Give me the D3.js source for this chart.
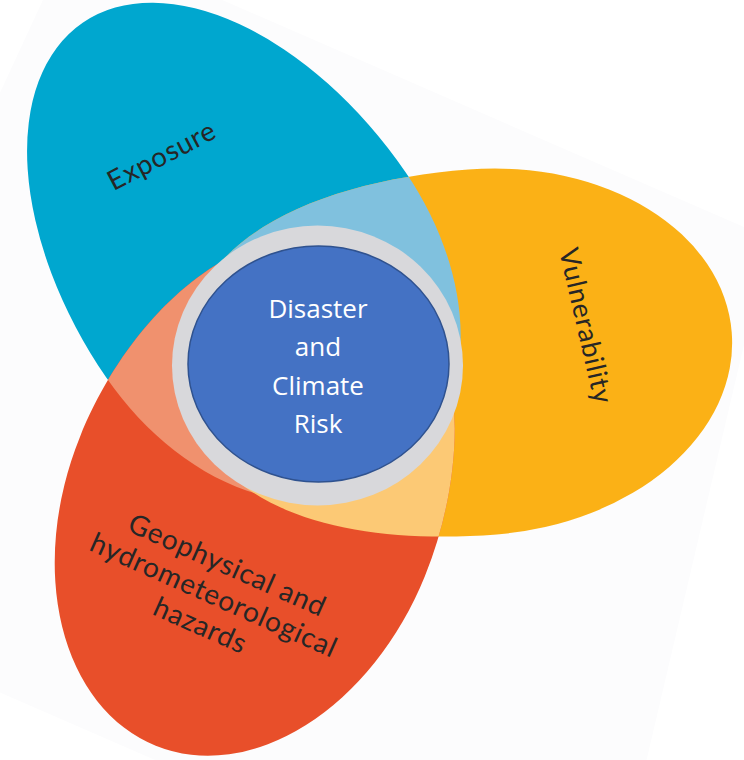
<!DOCTYPE html>
<html>
<head>
<meta charset="utf-8">
<title>Disaster and Climate Risk</title>
<script src="https://cdn.jsdelivr.net/npm/d3@7"></script>
<style>
    body { margin: 0; background: #fff; }
    .petal-label { font-family: Lato, "Open Sans", sans-serif; fill: #262626; letter-spacing: 0.8px; }
    .centre-label { font-family: "Open Sans", "Noto Sans", sans-serif; fill: #fff; }
</style>
</head>
<body>
<svg id="venn"></svg>
<script>
// Sets (petals) of the diagram
const sets = ["Exposure", "Vulnerability", "Hazards"];
const setColors = ["#06a7cf", "#fbb116", "#e8502a"];

// Pairwise overlaps and their colours
const overlaps = [["Exposure", "Vulnerability"], ["Exposure", "Hazards"], ["Vulnerability", "Hazards"]];
const overlapColors = ["#80c1de", "#f0916e", "#fcc974"];

// Text
const exposureLines = ["Exposure"];
const vulnerabilityLines = ["Vulnerability"];
const hazardLines = ["Geophysical and", "hydrometeorological", "hazards"];
const centreLines = ["Disaster", "and", "Climate", "Risk"];

class Venn {

    constructor(_config) {
        this.config = {
            parentElement: _config.parentElement,
            containerWidth: _config.containerWidth || 744,
            containerHeight: _config.containerHeight || 760
        }
        this.initVis();
    }

    initVis() {
        let vis = this;

        vis.svg = d3.select(vis.config.parentElement)
            .attr('width', vis.config.containerWidth)
            .attr('height', vis.config.containerHeight);

        vis.color = d3.scaleOrdinal().domain(sets).range(setColors);

        // petal geometry: widest point (cx, cy), direction of the outer tip,
        // outer half is elliptic, inner half tapers towards the centre
        vis.shape = {
            "Exposure":      {cx: 256, cy: 275, angle: -124.5, far: 306, near: 240, ry: 181.5, bulge: 0.65},
            "Vulnerability": {cx: 482.5, cy: 352, angle: -4.5, far: 250, near: 300, ry: 183, bulge: 0.75},
            "Hazards":       {cx: 252.4, cy: 506.6, angle: 112, far: 258, near: 280, ry: 186, bulge: 0.62}
        };

        const defs = vis.svg.append('defs');
        defs.selectAll('clipPath')
            .data(sets)
            .join('clipPath')
            .attr('id', (d, i) => 'clip-' + i)
            .append('path')
            .call(vis.placePetal.bind(vis));

        defs.append('filter')
            .attr('id', 'soft')
            .append('feGaussianBlur')
            .attr('stdDeviation', 0.6);

        // faint tilted page behind the figure
        vis.svg.append('polygon')
            .attr('points', '73,-65 769,238 601,954 -231,592')
            .attr('fill', '#fcfcfd');

        vis.chart = vis.svg.append('g');
    }

    petalPath(s) {
        const a = s.near * 0.5, b = s.ry * s.bulge;
        return `M0,${-s.ry}A${s.far},${s.ry} 0 0 1 0,${s.ry}` +
            `C${-a},${s.ry} ${-s.near},${b} ${-s.near},0` +
            `C${-s.near},${-b} ${-a},${-s.ry} 0,${-s.ry}Z`;
    }

    placePetal(sel) {
        const vis = this;
        sel.attr('d', d => vis.petalPath(vis.shape[d]))
            .attr('transform', d => `translate(${vis.shape[d].cx},${vis.shape[d].cy}) rotate(${vis.shape[d].angle})`);
    }

    renderVis() {
        let vis = this;

        const petals = vis.chart.append('g').attr('filter', 'url(#soft)');

        petals.selectAll('.petal')
            .data(sets)
            .join('path')
            .attr('class', 'petal')
            .call(vis.placePetal.bind(vis))
            .attr('fill', d => vis.color(d));

        // overlap = petal A clipped by petal B
        petals.selectAll('.overlap')
            .data(overlaps)
            .join('g')
            .attr('class', 'overlap')
            .attr('clip-path', d => `url(#clip-${sets.indexOf(d[1])})`)
            .append('path')
            .datum(d => d[0])
            .call(vis.placePetal.bind(vis))
            .attr('fill', (d, i) => overlapColors[i]);

        // centre ring and disc
        vis.chart.append('ellipse')
            .attr('cx', 317.5).attr('cy', 365.5)
            .attr('rx', 145.5).attr('ry', 140)
            .attr('fill', '#d8d8db');

        vis.chart.append('ellipse')
            .attr('cx', 318.5).attr('cy', 364)
            .attr('rx', 130.5).attr('ry', 118)
            .attr('fill', '#4472c4')
            .attr('stroke', '#2f528f')
            .attr('stroke-width', 1.5);

        vis.chart.append('g')
            .attr('transform', 'translate(318,0)')
            .selectAll('text')
            .data(centreLines)
            .join('text')
            .attr('class', 'centre-label')
            .attr('y', (d, i) => 318 + i * 38.3)
            .attr('text-anchor', 'middle')
            .style('font-size', '26px')
            .text(d => d);

        // petal labels
        vis.addLabel(exposureLines, 166, 164, -27.5, 27.5, 0);
        vis.addLabel(vulnerabilityLines, 577, 328, 77, 27, 0);
        vis.addLabel(hazardLines, 210, 604, 24, 28, 33);
    }

    addLabel(lines, x, y, angle, size, lineHeight) {
        const vis = this;
        const offset = (lines.length - 1) / 2;
        vis.chart.append('g')
            .attr('transform', `translate(${x},${y}) rotate(${angle})`)
            .selectAll('text')
            .data(lines)
            .join('text')
            .attr('class', 'petal-label')
            .attr('y', (d, i) => (i - offset) * lineHeight)
            .attr('text-anchor', 'middle')
            .style('font-size', size + 'px')
            .text(d => d);
    }
}

const venn = new Venn({parentElement: '#venn'});
venn.renderVis();
</script>
</body>
</html>
